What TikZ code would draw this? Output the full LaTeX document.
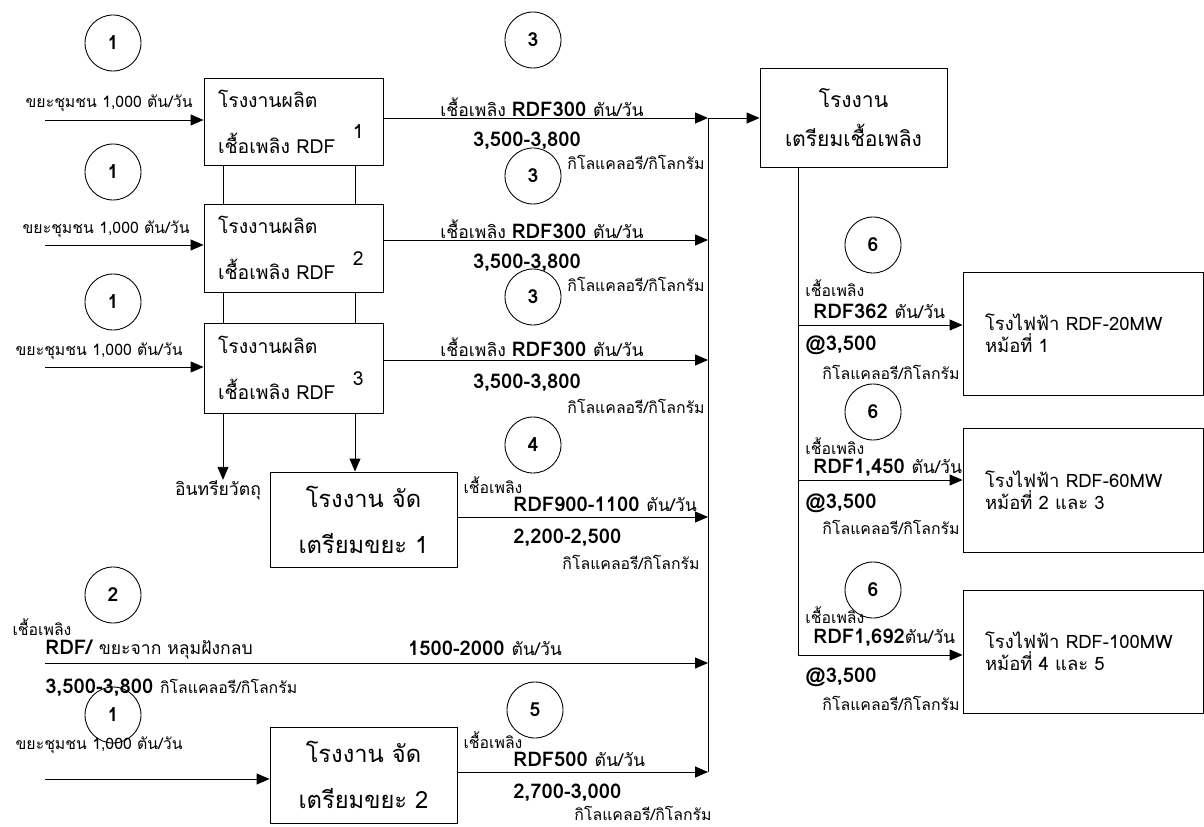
\documentclass[tikz,border=0pt]{standalone}
\usepackage{fontspec}
\setmainfont[Script=Thai]{Loma}
\usetikzlibrary{arrows.meta}
\newcommand\smt{\fontsize{9}{10}\selectfont\mdseries}
\newcommand\mdt{\fontsize{10}{11}\selectfont\mdseries}
\newcommand\bgt{\fontsize{11.5}{13}\selectfont\bfseries}
\begin{document}
\begin{tikzpicture}[x=0.2mm,y=-0.2mm,>={Triangle[length=2.6mm,width=2.2mm]},line width=0.5pt]
\useasboundingbox (0,0) rectangle (1204,827);

        \begin{scope}[every node/.style={circle,draw,minimum size=11.2mm,inner sep=0pt,font=\fontsize{11}{12}\selectfont\bfseries}]
          \node (c1a) at (113,43)  {1};
          \node (c1b) at (113,172) {1};
          \node (c1c) at (113,302) {1};
          \node (c2)  at (113,595) {2};
          \node (c1d) at (113,715) {1};
          \node (c3a) at (533,40)  {3};
          \node (c3b) at (533,176) {3};
          \node (c3c) at (533,297) {3};
          \node (c4)  at (533,445) {4};
          \node (c5)  at (535,710) {5};
          \node (c6a) at (873,245) {6};
          \node (c6b) at (873,412) {6};
          \node (c6c) at (873,590) {6};
        \end{scope}

        \begin{scope}[every node/.style={draw,inner xsep=2.8mm,inner ysep=0pt,align=left,font=\fontsize{11}{12}\selectfont}]
          \node[text width=30.2mm,minimum height=17.4mm] (b1) at (293.5,121.5) {โรงงานผลิต\\[3.2mm]เชื้อเพลิง RDF\hspace{3.5mm}\raisebox{1.4ex}{1}};
          \node[text width=30.2mm,minimum height=17.6mm] (b2) at (293.5,248)   {โรงงานผลิต\\[3.2mm]เชื้อเพลิง RDF\hspace{3.5mm}\raisebox{1.4ex}{2}};
          \node[text width=30.2mm,minimum height=18mm]   (b3) at (293.5,368)   {โรงงานผลิต\\[3.2mm]เชื้อเพลิง RDF\hspace{3.5mm}\raisebox{1.4ex}{3}};
        \end{scope}

        \begin{scope}[every node/.style={draw,inner sep=0pt,align=center}]
          \node[minimum width=37.4mm,minimum height=19mm,font=\fontsize{13.5}{14}\selectfont] (p1) at (363.5,519.5) {โรงงาน จัด\\[4.3mm]เตรียมขยะ 1};
          \node[minimum width=37.4mm,minimum height=19.2mm,font=\fontsize{13.5}{14}\selectfont] (p2) at (363.5,775) {โรงงาน จัด\\[4.3mm]เตรียมขยะ 2};
          \node[minimum width=37.4mm,minimum height=19.8mm,font=\fontsize{12}{13}\selectfont] (fp) at (853.5,117.5) {โรงงาน\\[3.2mm]เตรียมเชื้อเพลิง};
        \end{scope}

        \begin{scope}[every node/.style={draw,inner xsep=4.4mm,inner ysep=0pt,align=left,text width=39.2mm,font=\fontsize{10.5}{12.5}\selectfont}]
          \node[minimum height=24.6mm] (pp1) at (1083,333.5) {โรงไฟฟ้า RDF-20MW\\หม้อที่ 1};
          \node[minimum height=24.8mm] (pp2) at (1083,490)   {โรงไฟฟ้า RDF-60MW\\หม้อที่ 2 และ 3};
          \node[minimum height=24.6mm] (pp3) at (1083,651.5) {\mbox{โรงไฟฟ้า RDF-100MW}\\หม้อที่ 4 และ 5};
        \end{scope}

        \begin{scope}[every node/.style={inner sep=0pt}]
          \node[anchor=east] (in1) at (193,103) {\smt ขยะชุมชน 1,000 ตัน/วัน};
          \node[anchor=east] (in2) at (190,229) {\smt ขยะชุมชน 1,000 ตัน/วัน};
          \node[anchor=east] (in3) at (183,351) {\smt ขยะชุมชน 1,000 ตัน/วัน};
          \node[anchor=east] (in4) at (183,745) {\smt ขยะชุมชน 1,000 ตัน/วัน};
          \node (org) at (218,490) {\mdt อินทรียวัตถุ};

          \node (r1a) at (542,107) {\mdt เชื้อเพลิง \bgt RDF300 \mdt ตัน/วัน};
          \node (r1b) at (527,141) {\bgt 3,500-3,800};
          \node[anchor=east] (r1c) at (705,162) {\smt กิโลแคลอรี/กิโลกรัม};
          \node (r2a) at (542,229) {\mdt เชื้อเพลิง \bgt RDF300 \mdt ตัน/วัน};
          \node (r2b) at (527,263) {\bgt 3,500-3,800};
          \node[anchor=east] (r2c) at (705,284) {\smt กิโลแคลอรี/กิโลกรัม};
          \node (r3a) at (542,347) {\mdt เชื้อเพลิง \bgt RDF300 \mdt ตัน/วัน};
          \node (r3b) at (527,383) {\bgt 3,500-3,800};
          \node[anchor=east] (r3c) at (705,406) {\smt กิโลแคลอรี/กิโลกรัม};

          \node (r4a) at (493,485) {\smt เชื้อเพลิง};
          \node[anchor=west] (r4b) at (513,504) {\bgt RDF900-1100 \mdt ตัน/วัน};
          \node[anchor=west] (r4c) at (513,538) {\bgt 2,200-2,500};
          \node[anchor=east] (r4d) at (700,562) {\smt กิโลแคลอรี/กิโลกรัม};

          \node (r5a) at (42,627) {\smt เชื้อเพลิง};
          \node[anchor=west] (r5b) at (45,650) {\bgt RDF/ \mdt ขยะจาก หลุมฝังกลบ};
          \node (r5c) at (485,648) {\bgt 1500-2000 \mdt ตัน/วัน};
          \node[anchor=west] (r5d) at (45,688) {\bgt 3,500-3,800 \smt กิโลแคลอรี/กิโลกรัม};

          \node (r6a) at (493,740) {\smt เชื้อเพลิง};
          \node[anchor=west] (r6b) at (513,759) {\bgt RDF500 \mdt ตัน/วัน};
          \node[anchor=west] (r6c) at (513,793) {\bgt 2,700-3,000};
          \node[anchor=east] (r6d) at (712,813) {\smt กิโลแคลอรี/กิโลกรัม};

          \node[anchor=west] (e1a) at (805,288) {\smt เชื้อเพลิง};
          \node[anchor=west] (e1b) at (813,311) {\bgt RDF362 \mdt ตัน/วัน};
          \node[anchor=west] (e1c) at (805,345) {\bgt @3,500};
          \node[anchor=east] (e1d) at (960,372) {\smt กิโลแคลอรี/กิโลกรัม};
          \node[anchor=west] (e2a) at (805,446) {\smt เชื้อเพลิง};
          \node[anchor=west] (e2b) at (813,468) {\bgt RDF1,450 \mdt ตัน/วัน};
          \node[anchor=west] (e2c) at (805,503) {\bgt @3,500};
          \node[anchor=east] (e2d) at (960,527) {\smt กิโลแคลอรี/กิโลกรัม};
          \node[anchor=west] (e3a) at (805,615) {\smt เชื้อเพลิง};
          \node[anchor=west] (e3b) at (813,638) {\bgt RDF1,692\mdt ตัน/วัน};
          \node[anchor=west] (e3c) at (805,677) {\bgt @3,500};
          \node[anchor=east] (e3d) at (960,703) {\smt กิโลแคลอรี/กิโลกรัม};
        \end{scope}

        \coordinate (s1) at (45,120);
        \coordinate (s2) at (45,245);
        \coordinate (s3) at (45,367);
        \coordinate (s5) at (45,663);
        \coordinate (s6) at (45,779);
        \coordinate (t1) at (708,118);
        \coordinate (t2) at (708,240);
        \coordinate (t3) at (708,360);
        \coordinate (t4) at (708,517);
        \coordinate (t5) at (708,663);
        \coordinate (t6) at (708,772);
        \coordinate (vl) at (223,0);
        \coordinate (vr) at (355,0);
        \coordinate (u1) at (798,325);
        \coordinate (u2) at (798,480);
        \coordinate (u3) at (798,655);

        \draw[->] (s1) -- (s1 -| b1.west);
        \draw[->] (s2) -- (s2 -| b2.west);
        \draw[->] (s3) -- (s3 -| b3.west);
        \draw[->] (s6) -- (s6 -| p2.west);
        \draw (vl |- b1.south) -- (vl |- b2.north);
        \draw (vr |- b1.south) -- (vr |- b2.north);
        \draw (vl |- b2.south) -- (vl |- b3.north);
        \draw (vr |- b2.south) -- (vr |- b3.north);
        \draw[->] (vl |- b3.south) -- (vl |- org.north);
        \draw[->] (vr |- b3.south) -- (vr |- p1.north);

        \draw[->] (b1.east |- t1) -- (t1);
        \draw[->] (b2.east |- t2) -- (t2);
        \draw[->] (b3.east |- t3) -- (t3);
        \draw[->] (p1.east |- t4) -- (t4);
        \draw[->] (s5) -- (t5);
        \draw[->] (p2.east |- t6) -- (t6);
        \draw (t1) -- (t6);
        \draw[->] (t1) -- (fp.west |- t1);

        \draw (u1 |- fp.south) -- (u3);
        \draw[->] (u1) -- (u1 -| pp1.west);
        \draw[->] (u2) -- (u2 -| pp2.west);
        \draw[->] (u3) -- (u3 -| pp3.west);

      \end{tikzpicture}
\end{document}
